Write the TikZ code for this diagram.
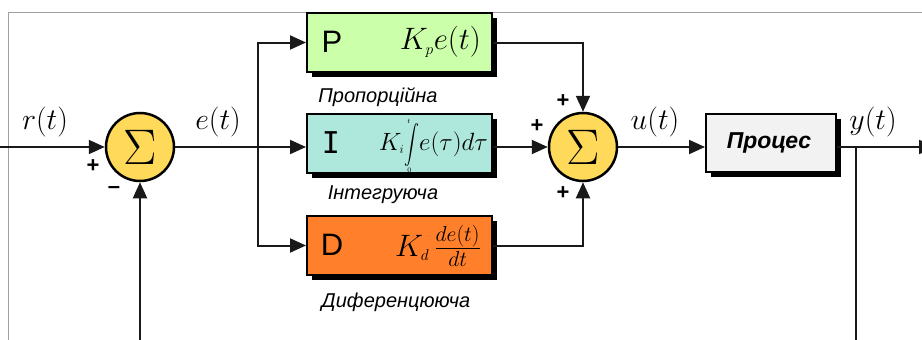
\RequirePackage{fix-cm}
\documentclass[tikz,border=0pt]{standalone}
\usepackage{exscale}
\usepackage{fontspec}
\usepackage{graphicx}
\newfontfamily\lsans{Liberation Sans}
\newfontfamily\dmono{DejaVu Sans Mono}
\usetikzlibrary{arrows.meta,shadows,calc}
\definecolor{pgreen}{HTML}{CCFFAA}
\definecolor{iteal}{HTML}{AEE8DC}
\definecolor{dorange}{HTML}{FF7F2A}
\definecolor{sumyellow}{HTML}{FFDA5A}
\definecolor{procgray}{HTML}{F2F2F2}
\definecolor{framegray}{HTML}{A0A0A0}
\newcommand{\tinylim}[1]{{\fontsize{7}{7}\selectfont$#1$}}
\begin{document}
\begin{tikzpicture}[x=1pt,y=-1pt,
  wire/.style={line width=2pt, draw=black!90},
  arr/.style={wire, -{Triangle[length=16pt,width=14pt]}},
  sumnode/.style={circle, draw=black, line width=2.5pt, fill=sumyellow,
    minimum size=68pt, inner sep=0pt,
    font=\fontsize{50}{54}\selectfont},
  blockbox/.style={draw=black, line width=2pt, inner sep=0pt,
    minimum width=185pt, minimum height=59pt,
    drop shadow={shadow xshift=5pt, shadow yshift=-5pt, opacity=1, fill=black}},
  sig/.style={font=\fontsize{30}{32}\selectfont, inner sep=0pt},
  lab/.style={font=\lsans\itshape\fontsize{20}{22}\selectfont, inner sep=0pt},
  sgn/.style={font=\lsans\bfseries\fontsize{22}{24}\selectfont, inner sep=0pt},
  letter/.style={font=\lsans\fontsize{31}{32}\selectfont, inner sep=0pt},
]
\useasboundingbox (0,0) rectangle (922,340);
\clip (0,0) rectangle (922,340);

% frame
\draw[framegray, line width=1pt] (8,345) -- (8,12) -- (925,12);

% nodes
\node[sumnode] (s1) at (140,147) {$\Sigma$};
\node[sumnode] (s2) at (583,147) {$\Sigma$};
\node[blockbox, fill=pgreen] (P) at (399.5,42.5) {};
\node[blockbox, fill=iteal] (I) at (399.5,143.5) {};
\node[blockbox, fill=dorange] (D) at (399.5,245.5) {};
\node[blockbox, fill=procgray, minimum width=130pt, minimum height=58pt] (Proc) at (771,143) {};

% box contents
\node[letter] (Pl) at (332,42) {P};
\node[font=\fontsize{31}{32}\selectfont, inner sep=0pt, anchor=east] (Pm) at (481,42) {$K_{\scriptscriptstyle p}e(t)$};
\node[font=\dmono\fontsize{30}{31}\selectfont, inner sep=0pt] (Il) at (331,143) {I};
\node[font=\fontsize{25}{26}\selectfont, inner sep=0pt, anchor=base east] (Im) at (488,150)
  {$K_{\scriptscriptstyle i}\rlap{\hspace{3pt}\smash{\raisebox{27pt}{\tinylim{t}}}}\rlap{\hspace{3pt}\smash{\raisebox{-22pt}{\tinylim{0}}}}\smash{\scalebox{0.6}[0.78]{$\displaystyle\int$}}e(\tau)d\tau$};
\node[letter] (Dl) at (332,245) {D};
\node[font=\fontsize{31}{32}\selectfont, inner sep=0pt, anchor=east] (Dm) at (481,246) {$K_{\scriptscriptstyle d}\,\frac{de(t)}{dt}$};
\node[font=\lsans\bfseries\itshape\fontsize{23}{25}\selectfont, inner sep=0pt] (Pt) at (769,143) {Процес};

% block labels
\node[lab] (lp) at (378,97) {Пропорційна};
\node[lab] (li) at (383,195) {Інтегруюча};
\node[lab] (ld) at (396,302) {Диференцююча};

% signal labels
\node[sig] (rt) at (45,122) {$r(t)$};
\node[sig] (et) at (218,122) {$e(t)$};
\node[sig] (ut) at (655,122) {$u(t)$};
\node[sig] (yt) at (873,122) {$y(t)$};

% signs
\node[sgn] (p1) at (93,166) {+};
\node[sgn] (m1) at (114,190) {–};
\node[sgn] (p2) at (563,101) {+};
\node[sgn] (p3) at (537,126) {+};
\node[sgn] (p4) at (563,193) {+};

% coordinates
\coordinate (in) at (0,147);
\coordinate (br) at (258,147);
\coordinate (tap) at (856,147);
\coordinate (out) at (935,147);
\coordinate (fbR) at (856,380);
\coordinate (fbL) at (140,380);

% connectors
\draw[arr] (in) -- (s1.west);
\draw[wire] (s1.east) -- (br);
\draw[arr] (br) -- (br -| I.west);
\draw[arr] (br) |- (P.west);
\draw[arr] (br) |- (D.west);
\draw[arr] (P.east) -| (s2.north);
\draw[arr] (I.east |- s2.west) -- (s2.west);
\draw[arr] (D.east) -| (s2.south);
\draw[arr] (s2.east) -- (s2.east -| Proc.west);
\draw[arr] (tap -| Proc.east) -- (out);
\draw[wire] (tap) -- (fbR) -- (fbL);
\draw[arr] (fbL) -- (s1.south);
\end{tikzpicture}
\end{document}
